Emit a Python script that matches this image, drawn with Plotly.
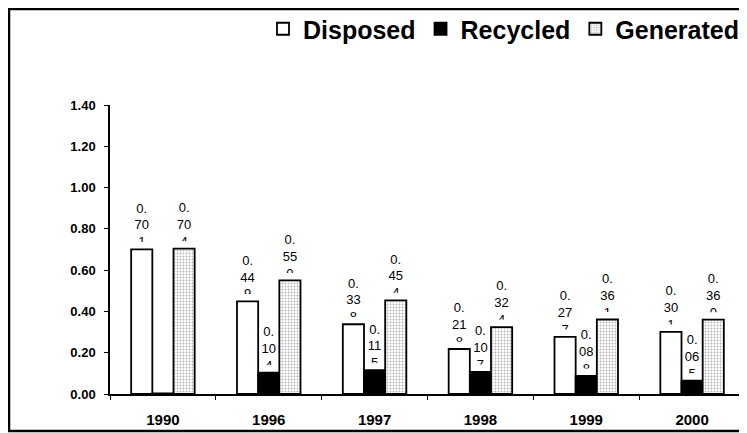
import plotly.graph_objects as go

categories = ["1990", "1996", "1997", "1998", "1999", "2000"]
disposed = [0.701, 0.449, 0.338, 0.218, 0.277, 0.301]
recycled = [0.003, 0.104, 0.115, 0.107, 0.088, 0.065]
generated = [0.704, 0.550, 0.454, 0.324, 0.361, 0.360]
y_ticks = [0.0, 0.2, 0.4, 0.6, 0.8, 1.0, 1.2, 1.4]

# the page body adds an 8px margin, so the figure is laid out 8px smaller
W, H = 739, 425
ML, MR, MT, MB = 102, 2, 97, 39
PW, PH = W - ML - MR, H - MT - MB
FONT = "Liberation Sans, Arial, sans-serif"
LABEL_SINK = 0.015   # how far the narrow label box dips toward the bar
LABEL_CLIP = 0.036   # white band that clips the label box just above the bar


def wrap(v):
    s = f"{v:.3f}"
    return s[:2] + "<br>" + s[2:4] + "<br>" + s[4:]


series = [
    ("Disposed", disposed, dict(color="white", line=dict(color="black", width=1.8))),
    ("Recycled", recycled, dict(color="black", line=dict(color="black", width=1.8))),
    ("Generated", generated, dict(color="white", line=dict(color="black", width=1.8),
                                  pattern=dict(shape=".", fgcolor="#666666", bgcolor="white",
                                               size=3, solidity=0.3))),
]

fig = go.Figure()
for name, vals, marker in series:
    # label layer (drawn first, partly clipped below)
    fig.add_trace(go.Bar(
        x=categories, y=vals, base=-LABEL_SINK, offsetgroup=name,
        marker=dict(color="rgba(0,0,0,0)", line=dict(width=0)),
        text=[wrap(v) for v in vals], textposition="outside", constraintext="none",
        textfont=dict(family=FONT, size=13, color="black"),
        cliponaxis=False, showlegend=False, hoverinfo="skip",
    ))
for name, vals, marker in series:
    # clip band of the label boxes
    fig.add_trace(go.Bar(
        x=categories, y=[LABEL_CLIP] * len(vals), base=vals, offsetgroup=name,
        marker=dict(color="white", line=dict(width=0)),
        showlegend=False, hoverinfo="skip",
    ))
for name, vals, marker in series:
    fig.add_trace(go.Bar(
        x=categories, y=vals, name=name, offsetgroup=name, marker=marker,
    ))

fig.update_layout(
    width=W, height=H,
    margin=dict(l=ML, r=MR, t=MT, b=MB, autoexpand=False),
    paper_bgcolor="white", plot_bgcolor="white",
    barmode="group", bargap=0.4, bargroupgap=0,
    font=dict(family=FONT, color="black"),
    legend=dict(
        orientation="h", xref="container", yref="container",
        x=255 / W, xanchor="left", y=1 - 21 / H, yanchor="middle",
        font=dict(family=FONT, size=25, weight="bold", color="black"),
        itemwidth=30, tracegroupgap=0, bgcolor="rgba(0,0,0,0)",
    ),
    xaxis=dict(
        type="category", showline=True, linecolor="black", linewidth=1.5,
        ticks="outside", tickson="boundaries", ticklen=4, tickcolor="black",
        tickfont=dict(family=FONT, size=15, weight="bold"), ticklabelstandoff=11,
        showgrid=False, zeroline=False, range=[-0.5, 5.5],
    ),
    yaxis=dict(
        range=[0, 1.4], tickvals=y_ticks, tickformat=".2f",
        showline=True, linecolor="black", linewidth=1.5,
        ticks="outside", ticklen=4, tickcolor="black",
        tickfont=dict(family=FONT, size=13, weight="bold"), ticklabelstandoff=6,
        showgrid=False, zeroline=False,
    ),
    shapes=[dict(
        type="rect", xref="paper", yref="paper",
        x0=(1 - ML) / PW, x1=(W + 10 - ML) / PW,
        y0=(MT + PH - 423) / PH, y1=(MT + PH - 1) / PH,
        line=dict(color="black", width=2.5), fillcolor="rgba(0,0,0,0)", layer="below",
    )],
)

fig.write_html("out.html")
